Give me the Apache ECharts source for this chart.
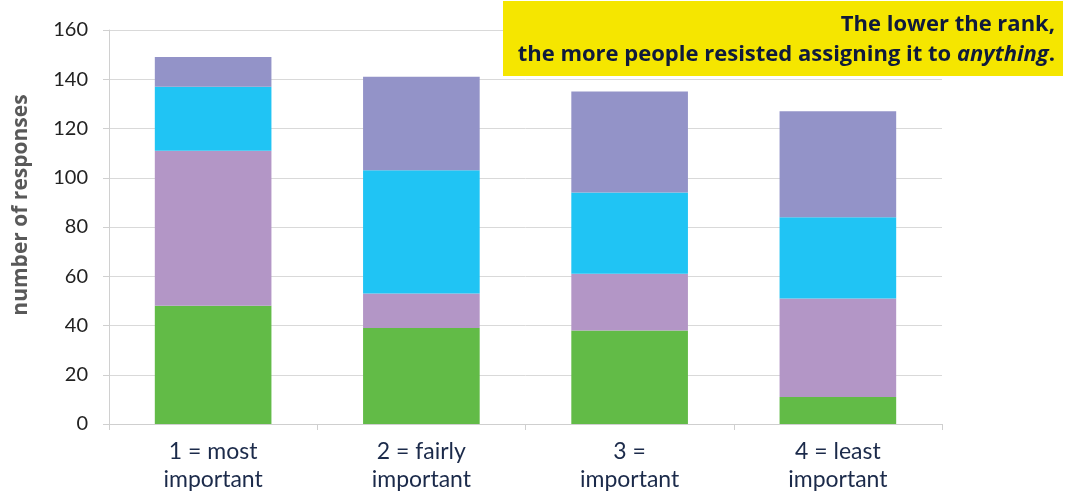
<!DOCTYPE html>
<html>
<head>
<meta charset="utf-8">
<script src="https://cdn.jsdelivr.net/npm/echarts@6/dist/echarts.min.js"></script>
<style>
  html, body { margin: 0; padding: 0; background: #ffffff; }
  #chart { width: 1065px; height: 497px; }
</style>
</head>
<body>
<div id="chart"></div>
<script>
// Rank categories along the x axis
const categories = ['1 = most\nimportant', '2 = fairly\nimportant', '3 =\nimportant', '4 = least\nimportant'];

// Stacked segments, bottom to top
const seriesA = [48, 39, 38, 11];   // green
const seriesB = [63, 14, 23, 40];   // purple
const seriesC = [26, 50, 33, 33];   // cyan
const seriesD = [12, 38, 41, 43];   // lavender

const yTicks = { min: 0, max: 160, interval: 20 };

const segments = [
  { name: 'A', data: seriesA, color: '#62bb47' },
  { name: 'B', data: seriesB, color: '#b396c6' },
  { name: 'C', data: seriesC, color: '#20c4f4' },
  { name: 'D', data: seriesD, color: '#9393c8' }
];

const boldFont = '"Open Sans", Lato, sans-serif';
const noteStyle = {
  fontFamily: boldFont,
  fontWeight: 'bold',
  fontSize: 22,
  lineHeight: 30,
  align: 'right',
  fill: '#0f1a3c'
};

const chart = echarts.init(document.getElementById('chart'), null, { renderer: 'canvas' });

chart.setOption({
  animation: false,
  backgroundColor: '#ffffff',
  grid: { left: 109, right: 123, top: 30, bottom: 73, containLabel: false },
  xAxis: {
    type: 'category',
    data: categories,
    axisLine: { show: true, lineStyle: { color: '#cfcfcf', width: 1 } },
    axisTick: { show: true, length: 6, lineStyle: { color: '#cfcfcf' } },
    axisLabel: {
      color: '#1b2a4a',
      fontFamily: 'Lato, "Open Sans", sans-serif',
      fontSize: 23,
      lineHeight: 28,
      margin: 14,
      interval: 0
    }
  },
  yAxis: {
    type: 'value',
    min: yTicks.min,
    max: yTicks.max,
    interval: yTicks.interval,
    axisLine: { show: true, lineStyle: { color: '#d0d0d0', width: 1 } },
    axisTick: { show: true, length: 6, lineStyle: { color: '#d0d0d0' } },
    axisLabel: {
      color: '#222222',
      fontFamily: 'Lato, "Open Sans", sans-serif',
      fontSize: 20,
      margin: 21
    },
    splitLine: { show: true, lineStyle: { color: '#d9d9d9', width: 1 } }
  },
  series: segments.map(s => ({
    name: s.name,
    type: 'bar',
    stack: 'total',
    data: s.data,
    barWidth: '56%',
    itemStyle: { color: s.color }
  })),
  graphic: [
    {
      // y axis title
      type: 'text',
      x: 21,
      y: 205,
      rotation: Math.PI / 2,
      z: 50,
      style: {
        text: 'number of responses',
        fontFamily: boldFont,
        fontWeight: 'bold',
        fontSize: 21,
        fill: '#595959',
        align: 'center',
        verticalAlign: 'middle'
      }
    },
    {
      type: 'rect',
      left: 503,
      top: 1,
      shape: { width: 560, height: 75 },
      style: { fill: '#f5e600' },
      z: 100
    },
    {
      type: 'text',
      x: 1055,
      y: 10,
      z: 101,
      style: {
        text: '{b|The lower the rank,}\n{b|the more people resisted assigning it to }{i|anything}{b|.}',
        align: 'right',
        fill: '#0f1a3c',
        rich: {
          b: noteStyle,
          i: Object.assign({}, noteStyle, { fontStyle: 'italic' })
        }
      }
    }
  ]
});
</script>
</body>
</html>
